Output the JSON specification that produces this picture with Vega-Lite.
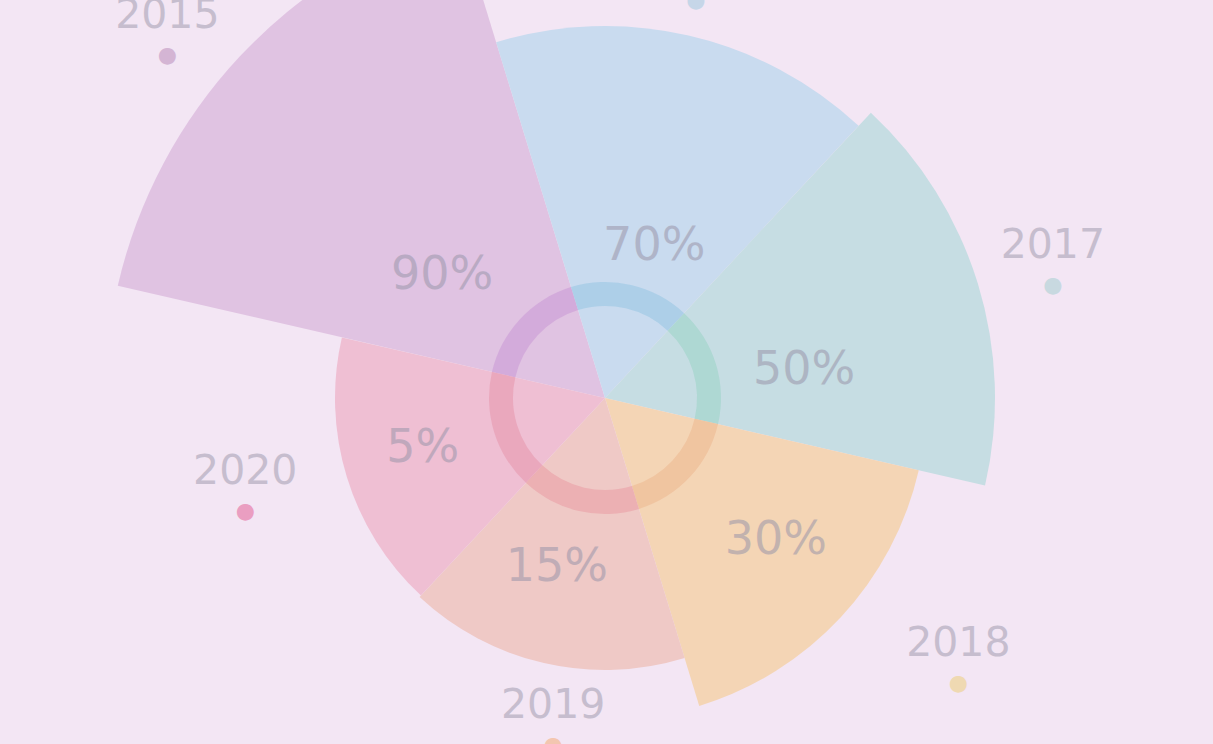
{
  "$schema": "https://vega.github.io/schema/vega-lite/v6.json",
  "width": 1210,
  "height": 692,
  "autosize": {"type": "none"},
  "padding": {"top": 52, "left": 0, "right": 3, "bottom": 0},
  "background": "#f3e6f4",
  "config": {"view": {"stroke": null}},
  "data": {"values": [
    {"year": "2015", "value": 90, "label": "90%"},
    {"year": "2016", "value": 70, "label": "70%"},
    {"year": "2017", "value": 50, "label": "50%"},
    {"year": "2018", "value": 30, "label": "30%"},
    {"year": "2019", "value": 15, "label": "15%"},
    {"year": "2020", "value": 5, "label": "5%"}
  ]},
  "transform": [
    {"window": [{"op": "row_number", "as": "k"}], "sort": [{"field": "year", "order": "ascending"}]}
  ],
  "layer": [
    {
      "mark": {"type": "arc", "strokeWidth": 0, "thetaOffset": -0.5236, "theta2Offset": 0.5236},
      "encoding": {
        "theta": {"field": "k", "type": "quantitative", "stack": null, "scale": {"domain": [0.5, 6.5], "range": [4.939, 11.222]}},
        "theta2": {"field": "k"},
        "radius": {"field": "value", "type": "quantitative", "scale": {"type": "linear", "domain": [5, 15, 30, 50, 70, 90], "range": [270, 272, 322, 390, 372, 500]}},
        "radius2": {"value": 0},
        "color": {"field": "year", "type": "nominal", "legend": null, "scale": {"domain": ["2015", "2016", "2017", "2018", "2019", "2020"], "range": ["#e0c3e2", "#c9dbef", "#c6dde3", "#f4d5b5", "#efc9c6", "#efbfd3"]}}
      }
    },
    {
      "mark": {"type": "arc", "outerRadius": 116, "innerRadius": 92, "opacity": 0.75, "strokeWidth": 0, "thetaOffset": -0.5236, "theta2Offset": 0.5236},
      "encoding": {
        "theta": {"field": "k", "type": "quantitative", "stack": null, "scale": {"domain": [0.5, 6.5], "range": [4.939, 11.222]}},
        "theta2": {"field": "k"},
        "color": {"field": "year", "type": "nominal", "legend": null, "scale": {"domain": ["2015", "2016", "2017", "2018", "2019", "2020"], "range": ["#cfa3d8", "#a3cbe6", "#a6d5cd", "#efbf9a", "#eba7ac", "#e8a0b6"]}}
      }
    },
    {
      "mark": {"type": "text", "fontSize": 46, "font": "DejaVu Sans", "color": "#9a96aa", "opacity": 0.55, "align": "center", "baseline": "middle"},
      "encoding": {
        "theta": {"field": "k", "type": "quantitative", "stack": null, "scale": {"type": "linear", "domain": [1, 2, 3, 4, 5, 6], "range": [5.358, 6.596, 7.714, 8.547, 9.702, 10.727]}},
        "radius": {"field": "value", "type": "quantitative", "scale": {"type": "linear", "domain": [5, 15, 30, 50, 70, 90], "range": [189, 176, 222, 201, 160, 204]}},
        "text": {"field": "label", "type": "nominal"}
      }
    },
    {
      "mark": {"type": "text", "fontSize": 22, "font": "DejaVu Sans", "align": "center", "baseline": "middle", "opacity": 0.8},
      "encoding": {
        "theta": {"field": "k", "type": "quantitative", "stack": null, "scale": {"type": "linear", "domain": [1, 2, 3, 4, 5, 6], "range": [5.377, 6.508, 7.606, 8.533, 9.573, 10.692]}},
        "radius": {"field": "value", "type": "quantitative", "scale": {"type": "linear", "domain": [5, 15, 30, 50, 70, 90], "range": [377, 351, 454, 462, 408, 556]}},
        "text": {"value": "●"},
        "color": {"field": "year", "type": "nominal", "legend": null, "scale": {"domain": ["2015", "2016", "2017", "2018", "2019", "2020"], "range": ["#cdaacd", "#bcd3e6", "#bed6dc", "#efd6a2", "#f4bfa0", "#e98db5"]}}
      }
    },
    {
      "mark": {"type": "text", "dy": -39, "fontSize": 41, "font": "DejaVu Sans", "color": "#9a96aa", "opacity": 0.5, "align": "center", "baseline": "middle"},
      "encoding": {
        "theta": {"field": "k", "type": "quantitative", "stack": null, "scale": {"type": "linear", "domain": [1, 2, 3, 4, 5, 6], "range": [5.377, 6.508, 7.606, 8.533, 9.573, 10.692]}},
        "radius": {"field": "value", "type": "quantitative", "scale": {"type": "linear", "domain": [5, 15, 30, 50, 70, 90], "range": [377, 351, 454, 462, 408, 556]}},
        "text": {"field": "year", "type": "nominal"}
      }
    }
  ],
  "resolve": {"scale": {"radius": "independent", "color": "independent", "theta": "independent"}}
}
